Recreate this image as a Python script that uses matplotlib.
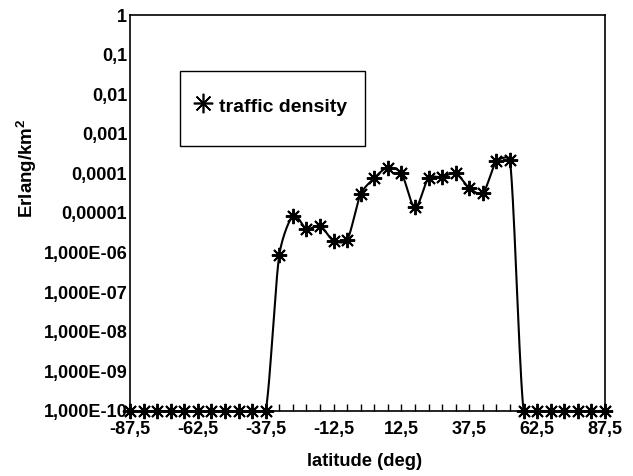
import numpy as np
import matplotlib
matplotlib.use("Agg")
import matplotlib.pyplot as plt
from matplotlib.ticker import FixedLocator, FuncFormatter, NullLocator
from matplotlib.lines import Line2D
from matplotlib.patches import Rectangle

plt.rcParams['font.family'] = ['Liberation Sans', 'DejaVu Sans']
plt.rcParams['font.weight'] = 'bold'
plt.rcParams['mathtext.fontset'] = 'custom'
plt.rcParams['mathtext.bf'] = 'Liberation Sans:bold'
plt.rcParams['mathtext.rm'] = 'Liberation Sans:bold'

# latitude bands (deg) and traffic density (Erlang/km^2); 1e-10 is the axis floor
latitude = np.arange(-87.5, 88, 5.0)
traffic_density = [
    1e-10, 1e-10, 1e-10, 1e-10, 1e-10, 1e-10, 1e-10, 1e-10, 1e-10, 1e-10,
    1e-10, 8.7e-7, 8.4e-6, 4.0e-6, 4.7e-6, 2.0e-6, 2.1e-6, 3.0e-5,
    7.6e-5, 1.4e-4, 1.0e-4, 1.4e-5, 7.6e-5, 8.1e-5, 1.0e-4, 4.3e-5,
    3.2e-5, 2.0e-4, 2.2e-4, 1e-10, 1e-10, 1e-10, 1e-10, 1e-10, 1e-10, 1e-10,
]
x_tick_labels = [-87.5, -62.5, -37.5, -12.5, 12.5, 37.5, 62.5, 87.5]
y_ticks = [1e-10, 1e-9, 1e-8, 1e-7, 1e-6, 1e-5, 1e-4, 1e-3, 1e-2, 1e-1, 1]
y_tick_text = ["1,000E-10", "1,000E-09", "1,000E-08", "1,000E-07", "1,000E-06",
               "0,00001", "0,0001", "0,001", "0,01", "0,1", "1"]

W, H = 633, 476
AX_W, AX_H = 475, 396          # axes size in pixels
X_SPAN, DECADES = 175.0, 10.0  # data extents of the axes


def smooth_curve(x, y, n=24):
    """Bezier smoothing (handles = 1/6 of neighbour difference), computed in
    screen units, with each handle capped at a third of its own segment."""
    kx = AX_W / X_SPAN
    ky = AX_H / DECADES
    P = np.column_stack([np.asarray(x, float) * kx,
                         np.log10(np.asarray(y, float)) * ky])
    m = len(P)
    xs, ys = [], []
    for i in range(m - 1):
        i0, i3 = max(i - 1, 0), min(i + 2, m - 1)
        p0, p3 = P[i], P[i + 1]
        seg = np.linalg.norm(p3 - p0)
        t0 = (P[i + 1] - P[i0]) / 6
        t1 = (P[i3] - P[i]) / 6
        for t in (t0, t1):
            L = np.linalg.norm(t)
            if L > seg / 3 and L > 0:
                t *= (seg / 3) / L
        p1 = p0 + t0
        p2 = p3 - t1
        s = np.linspace(0, 1, n, endpoint=(i == m - 2))[:, None]
        pts = ((1 - s) ** 3) * p0 + 3 * ((1 - s) ** 2) * s * p1 \
            + 3 * (1 - s) * s ** 2 * p2 + s ** 3 * p3
        xs.append(pts[:, 0] / kx)
        ys.append(pts[:, 1] / ky)
    return np.concatenate(xs), 10 ** np.concatenate(ys)


fig = plt.figure(figsize=(W / 100, H / 100), dpi=100)
ax = fig.add_axes([130 / W, 1 - 411 / H, AX_W / W, AX_H / H])

sx, sy = smooth_curve(latitude, traffic_density)
ax.plot(sx, sy, color='black', lw=1.5, zorder=3)

star = (8, 2, 0)
ax.plot(latitude, traffic_density, linestyle='none', marker=star, markersize=11,
        markeredgecolor='black', markeredgewidth=1.4, color='black', zorder=4,
        clip_on=False)

ax.set_yscale('log')
ax.set_ylim(1e-10, 1)
ax.set_xlim(-87.5, 87.5)

ax.yaxis.set_major_locator(FixedLocator(y_ticks))
ax.yaxis.set_minor_locator(NullLocator())
ax.set_yticklabels(y_tick_text)
ax.tick_params(axis='y', which='major', length=0, pad=2, labelsize=13)

ax.xaxis.set_major_locator(FixedLocator(x_tick_labels))
ax.xaxis.set_minor_locator(FixedLocator(latitude))
ax.xaxis.set_major_formatter(FuncFormatter(lambda v, p: f"{v:g}".replace('.', ',')))
ax.tick_params(axis='x', which='both', direction='in', length=5, width=1, pad=7,
               labelsize=13)

for s in ax.spines.values():
    s.set_linewidth(1.2)
    s.set_color('black')

fig.text(365 / W, 1 - 461 / H, "latitude (deg)", ha='center', va='center',
         fontsize=13.2, fontweight='bold')
fig.text(27 / W, 1 - 168 / H, r"Erlang/km$^{\mathbf{2}}$", ha='center', va='center',
         rotation=90, fontsize=13.5, fontweight='bold')

# legend box
fig.patches.append(Rectangle((180 / W, 1 - 146 / H), 185 / W, 75 / H,
                             transform=fig.transFigure, fill=False,
                             edgecolor='black', lw=1.0))
fig.lines.append(Line2D([203 / W], [1 - 103 / H], transform=fig.transFigure,
                        marker=star, markersize=14, markeredgewidth=1.2,
                        color='black', linestyle='none'))
fig.text(219 / W, 1 - 107 / H, "traffic density", ha='left', va='center',
         fontsize=14, fontweight='bold')

fig.savefig("out.png", dpi=100)
